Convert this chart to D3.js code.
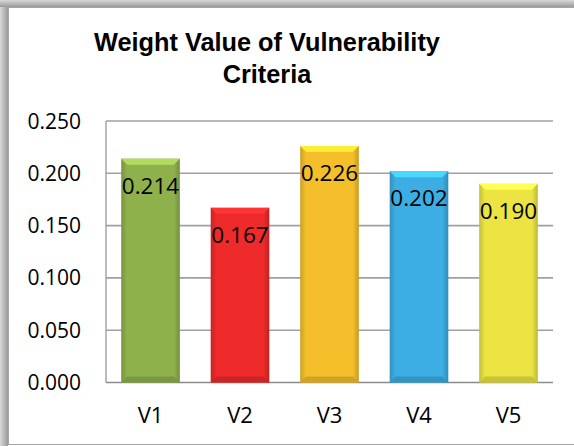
<!DOCTYPE html>
<html>
<head>
<meta charset="utf-8">
<script src="https://cdn.jsdelivr.net/npm/d3@7"></script>
<style>
  body { margin: 0; background: #fff; }
  svg { display: block; }
</style>
</head>
<body>
<svg width="574" height="446"></svg>
<script>
// chart data
var categories = ['V1', 'V2', 'V3', 'V4', 'V5']
var weights = [0.214, 0.167, 0.226, 0.202, 0.190]
var yTicks = [0, 0.05, 0.1, 0.15, 0.2, 0.25]
var barColours = ['#8fb14c', '#ee2a2a', '#f4bf2a', '#3caee3', '#ebe443']

var svg = d3.select('svg')
var width = +svg.attr('width')
var height = +svg.attr('height')
var margin = { top: 121, right: 21, bottom: 63.5, left: 106 }

// frame with soft shadow on left / top
var defs = svg.append('defs')
var shL = defs.append('linearGradient').attr('id', 'shL')
shL.append('stop').attr('offset', '0%').attr('stop-color', '#d8d8d8')
shL.append('stop').attr('offset', '100%').attr('stop-color', '#9a9a9a')
var shT = defs.append('linearGradient').attr('id', 'shT')
  .attr('x1', 0).attr('y1', 0).attr('x2', 0).attr('y2', 1)
shT.append('stop').attr('offset', '0%').attr('stop-color', '#d8d8d8')
shT.append('stop').attr('offset', '100%').attr('stop-color', '#9a9a9a')

svg.append('rect').attr('x', 0).attr('y', 0).attr('width', 8).attr('height', height).attr('fill', 'url(#shL)')
svg.append('rect').attr('x', 0).attr('y', 0).attr('width', width).attr('height', 7).attr('fill', 'url(#shT)')
svg.append('rect')
  .attr('x', 8.5).attr('y', 7.5)
  .attr('width', width).attr('height', 437)
  .attr('fill', '#fff')
  .attr('stroke', '#a6a6a6')

var x = d3.scaleBand()
  .domain(categories)
  .range([margin.left, width - margin.right])
  .paddingInner(0.345)
  .paddingOuter(0.17)

var y = d3.scaleLinear()
  .domain([0, 0.25])
  .range([height - margin.bottom, margin.top])

// title
var title = svg.append('text')
  .attr('text-anchor', 'middle')
  .style('font-family', '"Liberation Sans", Arial, sans-serif')
  .style('font-weight', 'bold')
  .style('font-size', '25.3px')
  .attr('fill', '#000')
title.append('tspan').attr('x', 267).attr('y', 51).text('Weight Value of Vulnerability')
title.append('tspan').attr('x', 267).attr('y', 83).text('Criteria')

// gridlines
svg.append('g')
  .selectAll('line')
  .data(yTicks)
  .enter().append('line')
  .attr('x1', margin.left)
  .attr('x2', width - margin.right)
  .attr('y1', function (d) { return y(d) })
  .attr('y2', function (d) { return y(d) })
  .attr('stroke', function (d) { return d === 0 ? '#8c8c8c' : '#a0a0a0' })
  .attr('stroke-width', 1.6)

svg.append('line')
  .attr('x1', margin.left).attr('x2', margin.left)
  .attr('y1', y(0.25)).attr('y2', y(0))
  .attr('stroke', '#a0a0a0').attr('stroke-width', 1.4)

// y axis labels
svg.append('g')
  .selectAll('text')
  .data(yTicks)
  .enter().append('text')
  .attr('x', 81)
  .attr('y', function (d) { return y(d) + 7.5 })
  .attr('text-anchor', 'end')
  .style('font-family', '"Open Sans", sans-serif')
  .style('font-size', '21px')
  .text(function (d) { return d3.format('.3f')(d) })

// x axis labels
svg.append('g')
  .selectAll('text')
  .data(categories)
  .enter().append('text')
  .attr('x', function (d) { return x(d) + x.bandwidth() / 2 })
  .attr('y', 423)
  .attr('text-anchor', 'middle')
  .style('font-family', '"Open Sans", sans-serif')
  .style('font-size', '22px')
  .text(function (d) { return d })

// bar gradients (darker edges for the bevel look)
categories.forEach(function (c, i) {
  var col = d3.rgb(barColours[i])
  var g = defs.append('linearGradient').attr('id', 'bar' + i)
  g.append('stop').attr('offset', '0%').attr('stop-color', col.darker(0.5))
  g.append('stop').attr('offset', '10%').attr('stop-color', col)
  g.append('stop').attr('offset', '90%').attr('stop-color', col)
  g.append('stop').attr('offset', '100%').attr('stop-color', col.darker(0.6))
})

var bars = svg.append('g')
  .selectAll('g')
  .data(weights)
  .enter().append('g')

bars.append('rect')
  .attr('x', function (d, i) { return x(categories[i]) })
  .attr('y', function (d) { return y(d) })
  .attr('width', x.bandwidth())
  .attr('height', function (d) { return y(0) - y(d) })
  .attr('fill', function (d, i) { return 'url(#bar' + i + ')' })

// top bevel
bars.append('path')
  .attr('d', function (d, i) {
    var x0 = x(categories[i])
    var x1 = x0 + x.bandwidth()
    var t = y(d)
    return 'M' + x0 + ',' + t + 'L' + x1 + ',' + t + 'L' + (x1 - 6) + ',' + (t + 6) + 'L' + (x0 + 6) + ',' + (t + 6) + 'Z'
  })
  .attr('fill', function (d, i) { return d3.rgb(barColours[i]).brighter(0.6) })

// bottom bevel
bars.append('path')
  .attr('d', function (d, i) {
    var x0 = x(categories[i])
    var x1 = x0 + x.bandwidth()
    var b = y(0)
    return 'M' + x0 + ',' + b + 'L' + x1 + ',' + b + 'L' + (x1 - 6) + ',' + (b - 6) + 'L' + (x0 + 6) + ',' + (b - 6) + 'Z'
  })
  .attr('fill', function (d, i) { return d3.rgb(barColours[i]).darker(0.45) })

// value labels
bars.append('text')
  .attr('x', function (d, i) { return x(categories[i]) + x.bandwidth() / 2 })
  .attr('y', function (d) { return y(d) + 35 })
  .attr('text-anchor', 'middle')
  .style('font-family', '"Open Sans", sans-serif')
  .style('font-size', '22.5px')
  .text(function (d) { return d3.format('.3f')(d) })
</script>
</body>
</html>
